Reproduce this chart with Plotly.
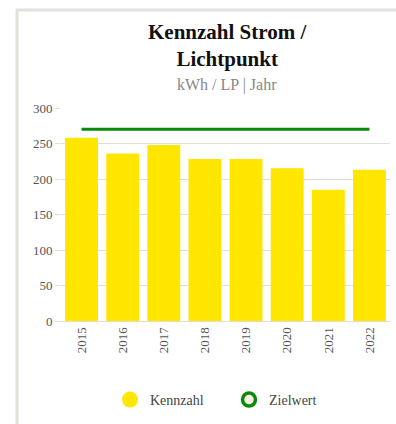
import plotly.graph_objects as go

years = ["2015", "2016", "2017", "2018", "2019", "2020", "2021", "2022"]
kennzahl = [258, 236, 248, 228, 228, 215, 185, 213]
zielwert = 270

yellow = "#FFE600"
green = "#0A8A0A"
grid = "#E2DED6"
serif = "Liberation Serif"

fig = go.Figure()

fig.add_trace(go.Bar(
    x=years, y=kennzahl, marker=dict(color=yellow, line=dict(width=0)),
    showlegend=False, hoverinfo="x+y",
))
fig.add_trace(go.Scatter(
    x=[years[0], years[-1]], y=[zielwert, zielwert], mode="lines",
    line=dict(color=green, width=3), showlegend=False,
))
# legend entries drawn as round symbols
fig.add_trace(go.Scatter(
    x=[None], y=[None], mode="markers", name="Kennzahl",
    marker=dict(symbol="circle", size=16, color=yellow),
))
fig.add_trace(go.Scatter(
    x=[None], y=[None], mode="markers", name="Zielwert",
    marker=dict(symbol="circle", size=13, color="#FBEDE2",
                line=dict(color=green, width=3.5)),
))

# plot area spans x 61..390 px, y 108..321 px
L, R, T, B = 61, 390, 108, 321
W, H = 396, 424

def px_x(p):
    return (p - L) / (R - L)

def px_y(p):
    return (B - p) / (B - T)

fig.update_layout(
    width=W, height=H,
    margin=dict(l=L, r=W - R, t=T, b=H - B, pad=0),
    paper_bgcolor="white", plot_bgcolor="white",
    bargap=0.2,
    font=dict(family=serif, size=13, color="#555555"),
    xaxis=dict(
        type="category", tickangle=-90, showgrid=False,
        showline=True, linecolor=grid, linewidth=1,
        ticks="", tickfont=dict(family=serif, size=13, color="#555555"),
        fixedrange=True,
    ),
    yaxis=dict(
        range=[0, 300], tickvals=[0, 50, 100, 150, 200, 250, 300],
        showgrid=True, gridcolor=grid, gridwidth=1, zeroline=False,
        ticks="outside", ticklen=5, tickcolor=grid,
        tickfont=dict(family=serif, size=13, color="#555555"),
        fixedrange=True,
    ),
    legend=dict(
        orientation="h", x=px_x(110), xanchor="left",
        y=px_y(400), yanchor="middle",
        font=dict(family=serif, size=14, color="#444444"),
        itemsizing="trace", entrywidth=74, entrywidthmode="pixels",
    ),
    annotations=[
        dict(text="<b>Kennzahl Strom /<br>Lichtpunkt</b>", xref="paper", yref="paper",
             x=px_x(227), y=px_y(45.5), xanchor="center", yanchor="middle",
             showarrow=False, font=dict(family=serif, size=21, color="#111111")),
        dict(text="kWh / LP | Jahr", xref="paper", yref="paper",
             x=px_x(227), y=px_y(85), xanchor="center", yanchor="middle",
             showarrow=False, font=dict(family=serif, size=16, color="#888888")),
    ],
    shapes=[
        dict(type="line", xref="paper", yref="paper",
             x0=px_x(17), x1=px_x(17), y0=px_y(9), y1=px_y(424),
             line=dict(color="#E3E1DC", width=3)),
        dict(type="line", xref="paper", yref="paper",
             x0=px_x(16), x1=px_x(396), y0=px_y(10), y1=px_y(10),
             line=dict(color="#E3E1DC", width=3)),
    ],
)

fig.write_html("out.html")
